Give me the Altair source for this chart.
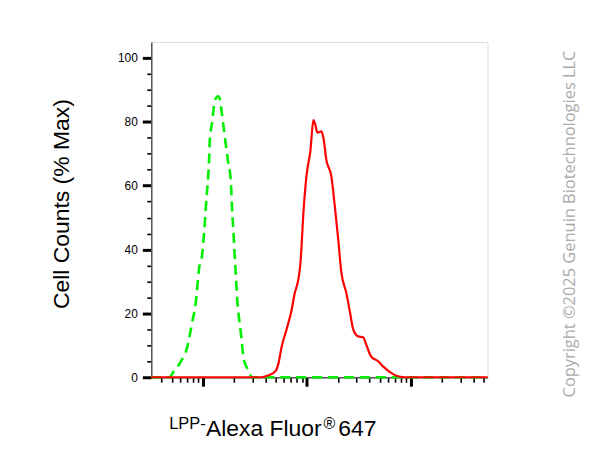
import altair as alt
import pandas as pd

# Control (isotype) histogram - green dashed
ctrl_x = [318, 406, 473, 527, 615, 703, 785, 857, 916, 978, 1023, 1069, 1140, 1167, 1219, 1302,
          1392, 1455, 1521, 1625, 1735, 1854, 1896, 1981, 2047, 2140, 2311, 2468, 2754, 2943,
          10000, 100000, 546000]
ctrl_y = [0, 0, 0, 2, 5, 9.3, 17, 24, 34, 38, 45, 54, 67, 75, 79.4, 86.6,
          88, 87, 82.5, 75, 68, 61, 54, 43, 34.6, 24, 14, 5.6, 2, 0,
          0, 0, 0]

# LPP stained histogram - red solid
lpp_x = [318, 1000, 3672, 4285, 5001, 5336, 5703, 6366, 7110, 7590, 8298, 8670, 9266, 9890,
         10800, 11530, 12050, 12600, 13760, 14390, 15380, 17150, 18740, 20010, 21380, 23880,
         26060, 27850, 31100, 34750, 37080, 41420, 48320, 53950, 62970, 75120, 89560, 200000, 546000]
lpp_y = [0, 0, 0, 0.6, 2, 4.5, 9.5, 15, 21, 26, 31, 36, 52, 63,
         71, 80.5, 79, 76.6, 77, 75, 68, 63, 52, 43, 33, 26.5,
         20, 15, 12.8, 12.5, 10.3, 6.5, 5, 3.4, 1.6, 0.3, 0, 0, 0]

x_ticks = [400, 500, 600, 700, 800, 900,
           1000, 2000, 3000, 4000, 5000, 6000, 7000, 8000, 9000,
           10000, 20000, 30000, 40000, 50000, 60000, 70000, 80000, 90000,
           100000, 200000, 300000, 400000, 500000]
y_ticks = list(range(0, 101, 5))

ctrl = pd.DataFrame({"x": ctrl_x, "y": ctrl_y})
lpp = pd.DataFrame({"x": lpp_x, "y": lpp_y})

FONT = "Liberation Sans"
major_x = "abs(log(datum.value)/LN10 - round(log(datum.value)/LN10)) < 0.001"
major_y = "datum.value % 20 == 0"

x_enc = alt.X(
    "x:Q",
    scale=alt.Scale(type="log", domain=[318, 546000], nice=False),
    axis=alt.Axis(
        values=x_ticks, labels=False, title=None, grid=False,
        domainColor="#555555", domainWidth=1.5,
        tickColor="black",
        tickSize={"condition": {"test": major_x, "value": 9}, "value": 5},
        tickWidth={"condition": {"test": major_x, "value": 3}, "value": 1.6},
    ),
)
y_enc = alt.Y(
    "y:Q",
    scale=alt.Scale(domain=[0, 105], nice=False, zero=False),
    axis=alt.Axis(
        values=y_ticks, grid=False, title=None,
        labelExpr="datum.value % 20 == 0 ? datum.label : ''",
        labelFont=FONT, labelFontSize=12, labelColor="black", labelPadding=5,
        domainColor="#555555", domainWidth=1.5,
        tickColor="black",
        tickSize={"condition": {"test": major_y, "value": 9}, "value": 4.5},
        tickWidth={"condition": {"test": major_y, "value": 3}, "value": 1.6},
    ),
)

green = alt.Chart(ctrl).mark_line(
    color="#00ee00", strokeWidth=2.6, strokeDash=[10, 6], interpolate="monotone"
).encode(x=x_enc, y=y_enc)

red = alt.Chart(lpp).mark_line(
    color="#ff0000", strokeWidth=2.2, interpolate="monotone"
).encode(x=x_enc, y=y_enc)


def label(text, x, y, size, angle=0, color="black", font=FONT, align="left", baseline="alphabetic"):
    return alt.Chart(pd.DataFrame({"t": [text]})).mark_text(
        font=font, fontSize=size, color=color, angle=angle, align=align, baseline=baseline
    ).encode(x=alt.value(x), y=alt.value(y), text="t:N")


y_title = label("Cell Counts (% Max)", -78, 163, 23, angle=270, align="center", baseline="bottom")
sup1 = label("LPP-", 18, 389, 16.5)
main = label("Alexa Fluor", 55, 396, 23)
sup2 = label("®", 173, 389, 16)
num = label("647", 188, 396, 23)
wm = label("Copyright ©2025 Genuin Biotechnologies LLC", 421, 183, 16.5, angle=270,
           color="#aaaaaa", font="Open Sans", align="center", baseline="middle")

chart = alt.layer(green, red, y_title, sup1, main, sup2, num, wm).properties(
    width=338, height=337,
    autosize=alt.AutoSizeParams(type="none"),
    padding={"left": 144, "top": 33, "right": 110, "bottom": 70},
).configure_view(stroke="#999999", strokeWidth=1.5).configure(background="white")

chart.save("out.html", embed_options={"renderer": "svg", "actions": False})
